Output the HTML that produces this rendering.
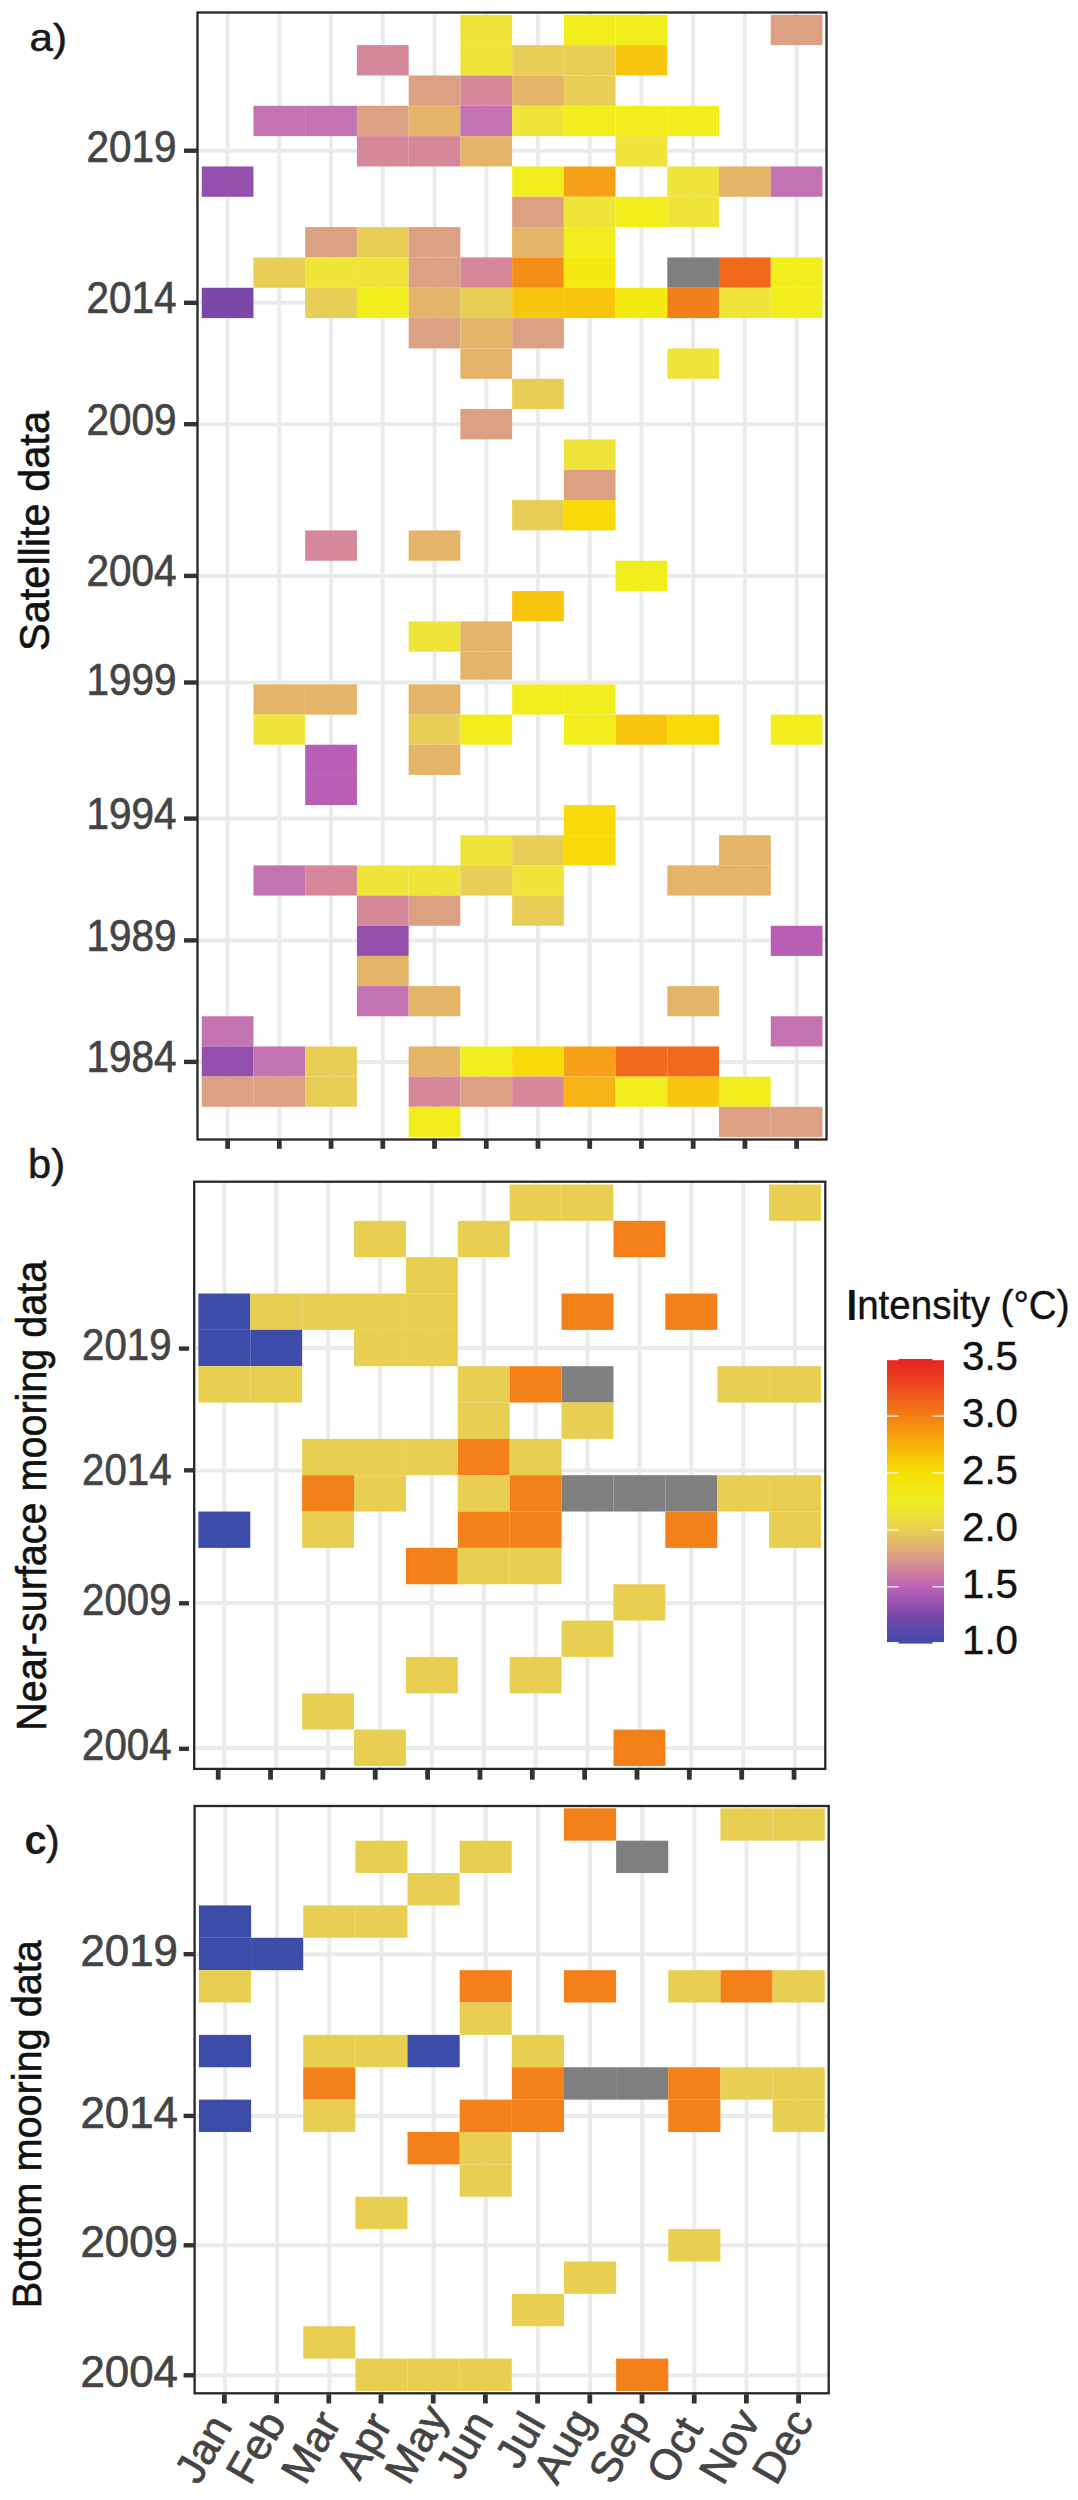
<!DOCTYPE html>
<html><head><meta charset="utf-8"><title>Heatmap</title>
<style>
html,body{margin:0;padding:0;background:#fff;}
body{width:1078px;height:2500px;overflow:hidden;}
svg{display:block;font-family:"Liberation Sans", sans-serif;}
</style></head>
<body>
<svg width="1078" height="2500" viewBox="0 0 1078 2500">
<rect x="0" y="0" width="1078" height="2500" fill="#ffffff"/>
<defs><linearGradient id="cb" x1="0" y1="0" x2="0" y2="1"><stop offset="0.0" stop-color="#E82222"/><stop offset="0.1" stop-color="#EE4C1E"/><stop offset="0.2" stop-color="#F47E14"/><stop offset="0.3" stop-color="#F8B00C"/><stop offset="0.4" stop-color="#F6E004"/><stop offset="0.5" stop-color="#F0EE20"/><stop offset="0.6" stop-color="#E8D050"/><stop offset="0.7" stop-color="#D99A86"/><stop offset="0.8" stop-color="#BE62B8"/><stop offset="0.9" stop-color="#7A48AA"/><stop offset="1.0" stop-color="#3D4CA9"/></linearGradient></defs>
<line x1="227.60" y1="12.50" x2="227.60" y2="1139.50" stroke="#EBEBEB" stroke-width="4.0"/>
<line x1="279.33" y1="12.50" x2="279.33" y2="1139.50" stroke="#EBEBEB" stroke-width="4.0"/>
<line x1="331.06" y1="12.50" x2="331.06" y2="1139.50" stroke="#EBEBEB" stroke-width="4.0"/>
<line x1="382.79" y1="12.50" x2="382.79" y2="1139.50" stroke="#EBEBEB" stroke-width="4.0"/>
<line x1="434.52" y1="12.50" x2="434.52" y2="1139.50" stroke="#EBEBEB" stroke-width="4.0"/>
<line x1="486.25" y1="12.50" x2="486.25" y2="1139.50" stroke="#EBEBEB" stroke-width="4.0"/>
<line x1="537.98" y1="12.50" x2="537.98" y2="1139.50" stroke="#EBEBEB" stroke-width="4.0"/>
<line x1="589.71" y1="12.50" x2="589.71" y2="1139.50" stroke="#EBEBEB" stroke-width="4.0"/>
<line x1="641.44" y1="12.50" x2="641.44" y2="1139.50" stroke="#EBEBEB" stroke-width="4.0"/>
<line x1="693.17" y1="12.50" x2="693.17" y2="1139.50" stroke="#EBEBEB" stroke-width="4.0"/>
<line x1="744.90" y1="12.50" x2="744.90" y2="1139.50" stroke="#EBEBEB" stroke-width="4.0"/>
<line x1="796.63" y1="12.50" x2="796.63" y2="1139.50" stroke="#EBEBEB" stroke-width="4.0"/>
<line x1="197.50" y1="150.70" x2="826.50" y2="150.70" stroke="#EBEBEB" stroke-width="4.0"/>
<line x1="197.50" y1="302.80" x2="826.50" y2="302.80" stroke="#EBEBEB" stroke-width="4.0"/>
<line x1="197.50" y1="424.20" x2="826.50" y2="424.20" stroke="#EBEBEB" stroke-width="4.0"/>
<line x1="197.50" y1="575.90" x2="826.50" y2="575.90" stroke="#EBEBEB" stroke-width="4.0"/>
<line x1="197.50" y1="682.50" x2="826.50" y2="682.50" stroke="#EBEBEB" stroke-width="4.0"/>
<line x1="197.50" y1="818.60" x2="826.50" y2="818.60" stroke="#EBEBEB" stroke-width="4.0"/>
<line x1="197.50" y1="940.40" x2="826.50" y2="940.40" stroke="#EBEBEB" stroke-width="4.0"/>
<line x1="197.50" y1="1061.90" x2="826.50" y2="1061.90" stroke="#EBEBEB" stroke-width="4.0"/>
<rect x="460.38" y="14.80" width="51.73" height="30.33" fill="#EFE43A"/>
<rect x="563.84" y="14.80" width="51.73" height="30.33" fill="#F2EE1E"/>
<rect x="615.57" y="14.80" width="51.73" height="30.33" fill="#F2EE1E"/>
<rect x="770.76" y="14.80" width="51.73" height="30.33" fill="#DCA082"/>
<rect x="356.92" y="45.13" width="51.73" height="30.33" fill="#D4889A"/>
<rect x="460.38" y="45.13" width="51.73" height="30.33" fill="#EFE43A"/>
<rect x="512.12" y="45.13" width="51.73" height="30.33" fill="#E8CD56"/>
<rect x="563.84" y="45.13" width="51.73" height="30.33" fill="#E8CD56"/>
<rect x="615.57" y="45.13" width="51.73" height="30.33" fill="#F8C60E"/>
<rect x="408.65" y="75.46" width="51.73" height="30.33" fill="#DCA082"/>
<rect x="460.38" y="75.46" width="51.73" height="30.33" fill="#D4889A"/>
<rect x="512.12" y="75.46" width="51.73" height="30.33" fill="#E4B468"/>
<rect x="563.84" y="75.46" width="51.73" height="30.33" fill="#E8CD56"/>
<rect x="253.46" y="105.79" width="51.73" height="30.33" fill="#C372B2"/>
<rect x="305.19" y="105.79" width="51.73" height="30.33" fill="#C372B2"/>
<rect x="356.92" y="105.79" width="51.73" height="30.33" fill="#DCA082"/>
<rect x="408.65" y="105.79" width="51.73" height="30.33" fill="#E4B468"/>
<rect x="460.38" y="105.79" width="51.73" height="30.33" fill="#C372B2"/>
<rect x="512.12" y="105.79" width="51.73" height="30.33" fill="#EFE43A"/>
<rect x="563.84" y="105.79" width="51.73" height="30.33" fill="#F2EE1E"/>
<rect x="615.57" y="105.79" width="51.73" height="30.33" fill="#F2EE1E"/>
<rect x="667.30" y="105.79" width="51.73" height="30.33" fill="#F2EE1E"/>
<rect x="356.92" y="136.12" width="51.73" height="30.33" fill="#D4889A"/>
<rect x="408.65" y="136.12" width="51.73" height="30.33" fill="#D4889A"/>
<rect x="460.38" y="136.12" width="51.73" height="30.33" fill="#E4B468"/>
<rect x="615.57" y="136.12" width="51.73" height="30.33" fill="#EFE43A"/>
<rect x="201.73" y="166.45" width="51.73" height="30.33" fill="#9450AC"/>
<rect x="512.12" y="166.45" width="51.73" height="30.33" fill="#F2EE1E"/>
<rect x="563.84" y="166.45" width="51.73" height="30.33" fill="#F5A016"/>
<rect x="667.30" y="166.45" width="51.73" height="30.33" fill="#EFE43A"/>
<rect x="719.03" y="166.45" width="51.73" height="30.33" fill="#E4B468"/>
<rect x="770.76" y="166.45" width="51.73" height="30.33" fill="#C372B2"/>
<rect x="512.12" y="196.78" width="51.73" height="30.33" fill="#DCA082"/>
<rect x="563.84" y="196.78" width="51.73" height="30.33" fill="#EFE43A"/>
<rect x="615.57" y="196.78" width="51.73" height="30.33" fill="#F2EE1E"/>
<rect x="667.30" y="196.78" width="51.73" height="30.33" fill="#EFE43A"/>
<rect x="305.19" y="227.11" width="51.73" height="30.33" fill="#DCA082"/>
<rect x="356.92" y="227.11" width="51.73" height="30.33" fill="#E8CD56"/>
<rect x="408.65" y="227.11" width="51.73" height="30.33" fill="#DCA082"/>
<rect x="512.12" y="227.11" width="51.73" height="30.33" fill="#E4B468"/>
<rect x="563.84" y="227.11" width="51.73" height="30.33" fill="#F2EE1E"/>
<rect x="253.46" y="257.44" width="51.73" height="30.33" fill="#E8CD56"/>
<rect x="305.19" y="257.44" width="51.73" height="30.33" fill="#EFE43A"/>
<rect x="356.92" y="257.44" width="51.73" height="30.33" fill="#EFE43A"/>
<rect x="408.65" y="257.44" width="51.73" height="30.33" fill="#DCA082"/>
<rect x="460.38" y="257.44" width="51.73" height="30.33" fill="#D4889A"/>
<rect x="512.12" y="257.44" width="51.73" height="30.33" fill="#F58E18"/>
<rect x="563.84" y="257.44" width="51.73" height="30.33" fill="#F5EA10"/>
<rect x="667.30" y="257.44" width="51.73" height="30.33" fill="#7F7F7F"/>
<rect x="719.03" y="257.44" width="51.73" height="30.33" fill="#F06A1A"/>
<rect x="770.76" y="257.44" width="51.73" height="30.33" fill="#F2EE1E"/>
<rect x="201.73" y="287.77" width="51.73" height="30.33" fill="#7C48A8"/>
<rect x="305.19" y="287.77" width="51.73" height="30.33" fill="#E8CD56"/>
<rect x="356.92" y="287.77" width="51.73" height="30.33" fill="#F2EE1E"/>
<rect x="408.65" y="287.77" width="51.73" height="30.33" fill="#E4B468"/>
<rect x="460.38" y="287.77" width="51.73" height="30.33" fill="#E8CD56"/>
<rect x="512.12" y="287.77" width="51.73" height="30.33" fill="#F8C60E"/>
<rect x="563.84" y="287.77" width="51.73" height="30.33" fill="#F8C60E"/>
<rect x="615.57" y="287.77" width="51.73" height="30.33" fill="#F5EA10"/>
<rect x="667.30" y="287.77" width="51.73" height="30.33" fill="#F28018"/>
<rect x="719.03" y="287.77" width="51.73" height="30.33" fill="#EFE43A"/>
<rect x="770.76" y="287.77" width="51.73" height="30.33" fill="#F2EE1E"/>
<rect x="408.65" y="318.10" width="51.73" height="30.33" fill="#DCA082"/>
<rect x="460.38" y="318.10" width="51.73" height="30.33" fill="#E4B468"/>
<rect x="512.12" y="318.10" width="51.73" height="30.33" fill="#DCA082"/>
<rect x="460.38" y="348.43" width="51.73" height="30.33" fill="#E4B468"/>
<rect x="667.30" y="348.43" width="51.73" height="30.33" fill="#EFE43A"/>
<rect x="512.12" y="378.76" width="51.73" height="30.33" fill="#E8CD56"/>
<rect x="460.38" y="409.09" width="51.73" height="30.33" fill="#DCA082"/>
<rect x="563.84" y="439.42" width="51.73" height="30.33" fill="#EFE43A"/>
<rect x="563.84" y="469.75" width="51.73" height="30.33" fill="#DCA082"/>
<rect x="512.12" y="500.08" width="51.73" height="30.33" fill="#E8CD56"/>
<rect x="563.84" y="500.08" width="51.73" height="30.33" fill="#F8DA0A"/>
<rect x="305.19" y="530.41" width="51.73" height="30.33" fill="#D4889A"/>
<rect x="408.65" y="530.41" width="51.73" height="30.33" fill="#E4B468"/>
<rect x="615.57" y="560.74" width="51.73" height="30.33" fill="#F2EE1E"/>
<rect x="512.12" y="591.07" width="51.73" height="30.33" fill="#F8C60E"/>
<rect x="408.65" y="621.40" width="51.73" height="30.33" fill="#EFE43A"/>
<rect x="460.38" y="621.40" width="51.73" height="30.33" fill="#E4B468"/>
<rect x="460.38" y="651.73" width="51.73" height="27.97" fill="#E4B468"/>
<rect x="253.46" y="684.40" width="51.73" height="30.17" fill="#E4B468"/>
<rect x="305.19" y="684.40" width="51.73" height="30.17" fill="#E4B468"/>
<rect x="408.65" y="684.40" width="51.73" height="30.17" fill="#E4B468"/>
<rect x="512.12" y="684.40" width="51.73" height="30.17" fill="#F2EE1E"/>
<rect x="563.84" y="684.40" width="51.73" height="30.17" fill="#F2EE1E"/>
<rect x="253.46" y="714.57" width="51.73" height="30.17" fill="#EFE43A"/>
<rect x="408.65" y="714.57" width="51.73" height="30.17" fill="#E8CD56"/>
<rect x="460.38" y="714.57" width="51.73" height="30.17" fill="#F2EE1E"/>
<rect x="563.84" y="714.57" width="51.73" height="30.17" fill="#F2EE1E"/>
<rect x="615.57" y="714.57" width="51.73" height="30.17" fill="#F8C60E"/>
<rect x="667.30" y="714.57" width="51.73" height="30.17" fill="#F8DA0A"/>
<rect x="770.76" y="714.57" width="51.73" height="30.17" fill="#F2EE1E"/>
<rect x="305.19" y="744.74" width="51.73" height="30.17" fill="#B85EB5"/>
<rect x="408.65" y="744.74" width="51.73" height="30.17" fill="#E4B468"/>
<rect x="305.19" y="774.91" width="51.73" height="30.17" fill="#B85EB5"/>
<rect x="563.84" y="805.08" width="51.73" height="30.17" fill="#F8DA0A"/>
<rect x="460.38" y="835.25" width="51.73" height="30.17" fill="#EFE43A"/>
<rect x="512.12" y="835.25" width="51.73" height="30.17" fill="#E8CD56"/>
<rect x="563.84" y="835.25" width="51.73" height="30.17" fill="#F8DA0A"/>
<rect x="719.03" y="835.25" width="51.73" height="30.17" fill="#E4B468"/>
<rect x="253.46" y="865.42" width="51.73" height="30.17" fill="#C372B2"/>
<rect x="305.19" y="865.42" width="51.73" height="30.17" fill="#D4889A"/>
<rect x="356.92" y="865.42" width="51.73" height="30.17" fill="#EFE43A"/>
<rect x="408.65" y="865.42" width="51.73" height="30.17" fill="#EFE43A"/>
<rect x="460.38" y="865.42" width="51.73" height="30.17" fill="#E8CD56"/>
<rect x="512.12" y="865.42" width="51.73" height="30.17" fill="#EFE43A"/>
<rect x="667.30" y="865.42" width="51.73" height="30.17" fill="#E4B468"/>
<rect x="719.03" y="865.42" width="51.73" height="30.17" fill="#E4B468"/>
<rect x="356.92" y="895.59" width="51.73" height="30.17" fill="#D4889A"/>
<rect x="408.65" y="895.59" width="51.73" height="30.17" fill="#DCA082"/>
<rect x="512.12" y="895.59" width="51.73" height="30.17" fill="#E8CD56"/>
<rect x="356.92" y="925.76" width="51.73" height="30.17" fill="#9450AC"/>
<rect x="770.76" y="925.76" width="51.73" height="30.17" fill="#B85EB5"/>
<rect x="356.92" y="955.93" width="51.73" height="30.17" fill="#E4B468"/>
<rect x="356.92" y="986.10" width="51.73" height="30.17" fill="#C372B2"/>
<rect x="408.65" y="986.10" width="51.73" height="30.17" fill="#E4B468"/>
<rect x="667.30" y="986.10" width="51.73" height="30.17" fill="#E4B468"/>
<rect x="201.73" y="1016.27" width="51.73" height="30.17" fill="#C372B2"/>
<rect x="770.76" y="1016.27" width="51.73" height="30.17" fill="#C372B2"/>
<rect x="201.73" y="1046.44" width="51.73" height="30.17" fill="#9450AC"/>
<rect x="253.46" y="1046.44" width="51.73" height="30.17" fill="#C372B2"/>
<rect x="305.19" y="1046.44" width="51.73" height="30.17" fill="#E8CD56"/>
<rect x="408.65" y="1046.44" width="51.73" height="30.17" fill="#E4B468"/>
<rect x="460.38" y="1046.44" width="51.73" height="30.17" fill="#F2EE1E"/>
<rect x="512.12" y="1046.44" width="51.73" height="30.17" fill="#F8DA0A"/>
<rect x="563.84" y="1046.44" width="51.73" height="30.17" fill="#F5A016"/>
<rect x="615.57" y="1046.44" width="51.73" height="30.17" fill="#F06A1A"/>
<rect x="667.30" y="1046.44" width="51.73" height="30.17" fill="#F06A1A"/>
<rect x="201.73" y="1076.61" width="51.73" height="30.17" fill="#DCA082"/>
<rect x="253.46" y="1076.61" width="51.73" height="30.17" fill="#DCA082"/>
<rect x="305.19" y="1076.61" width="51.73" height="30.17" fill="#E8CD56"/>
<rect x="408.65" y="1076.61" width="51.73" height="30.17" fill="#D4889A"/>
<rect x="460.38" y="1076.61" width="51.73" height="30.17" fill="#DCA082"/>
<rect x="512.12" y="1076.61" width="51.73" height="30.17" fill="#D4889A"/>
<rect x="563.84" y="1076.61" width="51.73" height="30.17" fill="#F7B515"/>
<rect x="615.57" y="1076.61" width="51.73" height="30.17" fill="#F2EE1E"/>
<rect x="667.30" y="1076.61" width="51.73" height="30.17" fill="#F8C60E"/>
<rect x="719.03" y="1076.61" width="51.73" height="30.17" fill="#F2EE1E"/>
<rect x="408.65" y="1106.78" width="51.73" height="30.17" fill="#F2EE1E"/>
<rect x="719.03" y="1106.78" width="51.73" height="30.17" fill="#DCA082"/>
<rect x="770.76" y="1106.78" width="51.73" height="30.17" fill="#DCA082"/>
<rect x="197.50" y="12.50" width="629.00" height="1127.00" fill="none" stroke="#262626" stroke-width="2.3"/>
<line x1="227.60" y1="1140.00" x2="227.60" y2="1148.80" stroke="#333333" stroke-width="4.8"/>
<line x1="279.33" y1="1140.00" x2="279.33" y2="1148.80" stroke="#333333" stroke-width="4.8"/>
<line x1="331.06" y1="1140.00" x2="331.06" y2="1148.80" stroke="#333333" stroke-width="4.8"/>
<line x1="382.79" y1="1140.00" x2="382.79" y2="1148.80" stroke="#333333" stroke-width="4.8"/>
<line x1="434.52" y1="1140.00" x2="434.52" y2="1148.80" stroke="#333333" stroke-width="4.8"/>
<line x1="486.25" y1="1140.00" x2="486.25" y2="1148.80" stroke="#333333" stroke-width="4.8"/>
<line x1="537.98" y1="1140.00" x2="537.98" y2="1148.80" stroke="#333333" stroke-width="4.8"/>
<line x1="589.71" y1="1140.00" x2="589.71" y2="1148.80" stroke="#333333" stroke-width="4.8"/>
<line x1="641.44" y1="1140.00" x2="641.44" y2="1148.80" stroke="#333333" stroke-width="4.8"/>
<line x1="693.17" y1="1140.00" x2="693.17" y2="1148.80" stroke="#333333" stroke-width="4.8"/>
<line x1="744.90" y1="1140.00" x2="744.90" y2="1148.80" stroke="#333333" stroke-width="4.8"/>
<line x1="796.63" y1="1140.00" x2="796.63" y2="1148.80" stroke="#333333" stroke-width="4.8"/>
<line x1="184.00" y1="150.70" x2="197.00" y2="150.70" stroke="#333333" stroke-width="4.4"/>
<text x="176.50" y="162.00" font-size="44" fill="#444444" text-anchor="end" textLength="90.0" lengthAdjust="spacingAndGlyphs" stroke="#444444" stroke-width="0.7">2019</text>
<line x1="184.00" y1="302.80" x2="197.00" y2="302.80" stroke="#333333" stroke-width="4.4"/>
<text x="176.50" y="313.20" font-size="44" fill="#444444" text-anchor="end" textLength="90.0" lengthAdjust="spacingAndGlyphs" stroke="#444444" stroke-width="0.7">2014</text>
<line x1="184.00" y1="424.20" x2="197.00" y2="424.20" stroke="#333333" stroke-width="4.4"/>
<text x="176.50" y="434.70" font-size="44" fill="#444444" text-anchor="end" textLength="90.0" lengthAdjust="spacingAndGlyphs" stroke="#444444" stroke-width="0.7">2009</text>
<line x1="184.00" y1="575.90" x2="197.00" y2="575.90" stroke="#333333" stroke-width="4.4"/>
<text x="176.50" y="586.30" font-size="44" fill="#444444" text-anchor="end" textLength="90.0" lengthAdjust="spacingAndGlyphs" stroke="#444444" stroke-width="0.7">2004</text>
<line x1="184.00" y1="682.50" x2="197.00" y2="682.50" stroke="#333333" stroke-width="4.4"/>
<text x="176.50" y="694.90" font-size="44" fill="#444444" text-anchor="end" textLength="90.0" lengthAdjust="spacingAndGlyphs" stroke="#444444" stroke-width="0.7">1999</text>
<line x1="184.00" y1="818.60" x2="197.00" y2="818.60" stroke="#333333" stroke-width="4.4"/>
<text x="176.50" y="829.10" font-size="44" fill="#444444" text-anchor="end" textLength="90.0" lengthAdjust="spacingAndGlyphs" stroke="#444444" stroke-width="0.7">1994</text>
<line x1="184.00" y1="940.40" x2="197.00" y2="940.40" stroke="#333333" stroke-width="4.4"/>
<text x="176.50" y="951.00" font-size="44" fill="#444444" text-anchor="end" textLength="90.0" lengthAdjust="spacingAndGlyphs" stroke="#444444" stroke-width="0.7">1989</text>
<line x1="184.00" y1="1061.90" x2="197.00" y2="1061.90" stroke="#333333" stroke-width="4.4"/>
<text x="176.50" y="1072.40" font-size="44" fill="#444444" text-anchor="end" textLength="90.0" lengthAdjust="spacingAndGlyphs" stroke="#444444" stroke-width="0.7">1984</text>
<line x1="224.30" y1="1181.70" x2="224.30" y2="1768.90" stroke="#EBEBEB" stroke-width="4.0"/>
<line x1="276.19" y1="1181.70" x2="276.19" y2="1768.90" stroke="#EBEBEB" stroke-width="4.0"/>
<line x1="328.08" y1="1181.70" x2="328.08" y2="1768.90" stroke="#EBEBEB" stroke-width="4.0"/>
<line x1="379.97" y1="1181.70" x2="379.97" y2="1768.90" stroke="#EBEBEB" stroke-width="4.0"/>
<line x1="431.86" y1="1181.70" x2="431.86" y2="1768.90" stroke="#EBEBEB" stroke-width="4.0"/>
<line x1="483.75" y1="1181.70" x2="483.75" y2="1768.90" stroke="#EBEBEB" stroke-width="4.0"/>
<line x1="535.64" y1="1181.70" x2="535.64" y2="1768.90" stroke="#EBEBEB" stroke-width="4.0"/>
<line x1="587.53" y1="1181.70" x2="587.53" y2="1768.90" stroke="#EBEBEB" stroke-width="4.0"/>
<line x1="639.42" y1="1181.70" x2="639.42" y2="1768.90" stroke="#EBEBEB" stroke-width="4.0"/>
<line x1="691.31" y1="1181.70" x2="691.31" y2="1768.90" stroke="#EBEBEB" stroke-width="4.0"/>
<line x1="743.20" y1="1181.70" x2="743.20" y2="1768.90" stroke="#EBEBEB" stroke-width="4.0"/>
<line x1="795.09" y1="1181.70" x2="795.09" y2="1768.90" stroke="#EBEBEB" stroke-width="4.0"/>
<line x1="194.20" y1="1348.00" x2="825.30" y2="1348.00" stroke="#EBEBEB" stroke-width="4.0"/>
<line x1="194.20" y1="1470.40" x2="825.30" y2="1470.40" stroke="#EBEBEB" stroke-width="4.0"/>
<line x1="194.20" y1="1603.00" x2="825.30" y2="1603.00" stroke="#EBEBEB" stroke-width="4.0"/>
<line x1="194.20" y1="1748.00" x2="825.30" y2="1748.00" stroke="#EBEBEB" stroke-width="4.0"/>
<rect x="509.70" y="1184.50" width="51.89" height="36.34" fill="#E8CF52"/>
<rect x="561.58" y="1184.50" width="51.89" height="36.34" fill="#E8CF52"/>
<rect x="769.14" y="1184.50" width="51.89" height="36.34" fill="#E8CF52"/>
<rect x="354.03" y="1220.84" width="51.89" height="36.34" fill="#E8CF52"/>
<rect x="457.81" y="1220.84" width="51.89" height="36.34" fill="#E8CF52"/>
<rect x="613.48" y="1220.84" width="51.89" height="36.34" fill="#F38019"/>
<rect x="405.92" y="1257.18" width="51.89" height="36.34" fill="#E8CF52"/>
<rect x="198.36" y="1293.52" width="51.89" height="36.34" fill="#3D4CA9"/>
<rect x="250.25" y="1293.52" width="51.89" height="36.34" fill="#E8CF52"/>
<rect x="302.14" y="1293.52" width="51.89" height="36.34" fill="#E8CF52"/>
<rect x="354.03" y="1293.52" width="51.89" height="36.34" fill="#E8CF52"/>
<rect x="405.92" y="1293.52" width="51.89" height="36.34" fill="#E8CF52"/>
<rect x="561.58" y="1293.52" width="51.89" height="36.34" fill="#F38019"/>
<rect x="665.36" y="1293.52" width="51.89" height="36.34" fill="#F38019"/>
<rect x="198.36" y="1329.86" width="51.89" height="36.34" fill="#3D4CA9"/>
<rect x="250.25" y="1329.86" width="51.89" height="36.34" fill="#3D4CA9"/>
<rect x="354.03" y="1329.86" width="51.89" height="36.34" fill="#E8CF52"/>
<rect x="405.92" y="1329.86" width="51.89" height="36.34" fill="#E8CF52"/>
<rect x="198.36" y="1366.20" width="51.89" height="36.34" fill="#E8CF52"/>
<rect x="250.25" y="1366.20" width="51.89" height="36.34" fill="#E8CF52"/>
<rect x="457.81" y="1366.20" width="51.89" height="36.34" fill="#E8CF52"/>
<rect x="509.70" y="1366.20" width="51.89" height="36.34" fill="#F38019"/>
<rect x="561.58" y="1366.20" width="51.89" height="36.34" fill="#7F7F7F"/>
<rect x="717.25" y="1366.20" width="51.89" height="36.34" fill="#E8CF52"/>
<rect x="769.14" y="1366.20" width="51.89" height="36.34" fill="#E8CF52"/>
<rect x="457.81" y="1402.54" width="51.89" height="36.34" fill="#E8CF52"/>
<rect x="561.58" y="1402.54" width="51.89" height="36.34" fill="#E8CF52"/>
<rect x="302.14" y="1438.88" width="51.89" height="36.34" fill="#E8CF52"/>
<rect x="354.03" y="1438.88" width="51.89" height="36.34" fill="#E8CF52"/>
<rect x="405.92" y="1438.88" width="51.89" height="36.34" fill="#E8CF52"/>
<rect x="457.81" y="1438.88" width="51.89" height="36.34" fill="#F38019"/>
<rect x="509.70" y="1438.88" width="51.89" height="36.34" fill="#E8CF52"/>
<rect x="302.14" y="1475.22" width="51.89" height="36.34" fill="#F38019"/>
<rect x="354.03" y="1475.22" width="51.89" height="36.34" fill="#E8CF52"/>
<rect x="457.81" y="1475.22" width="51.89" height="36.34" fill="#E8CF52"/>
<rect x="509.70" y="1475.22" width="51.89" height="36.34" fill="#F38019"/>
<rect x="561.58" y="1475.22" width="51.89" height="36.34" fill="#7F7F7F"/>
<rect x="613.48" y="1475.22" width="51.89" height="36.34" fill="#7F7F7F"/>
<rect x="665.36" y="1475.22" width="51.89" height="36.34" fill="#7F7F7F"/>
<rect x="717.25" y="1475.22" width="51.89" height="36.34" fill="#E8CF52"/>
<rect x="769.14" y="1475.22" width="51.89" height="36.34" fill="#E8CF52"/>
<rect x="198.36" y="1511.56" width="51.89" height="36.34" fill="#3D4CA9"/>
<rect x="302.14" y="1511.56" width="51.89" height="36.34" fill="#E8CF52"/>
<rect x="457.81" y="1511.56" width="51.89" height="36.34" fill="#F38019"/>
<rect x="509.70" y="1511.56" width="51.89" height="36.34" fill="#F38019"/>
<rect x="665.36" y="1511.56" width="51.89" height="36.34" fill="#F38019"/>
<rect x="769.14" y="1511.56" width="51.89" height="36.34" fill="#E8CF52"/>
<rect x="405.92" y="1547.90" width="51.89" height="36.34" fill="#F38019"/>
<rect x="457.81" y="1547.90" width="51.89" height="36.34" fill="#E8CF52"/>
<rect x="509.70" y="1547.90" width="51.89" height="36.34" fill="#E8CF52"/>
<rect x="613.48" y="1584.24" width="51.89" height="36.34" fill="#E8CF52"/>
<rect x="561.58" y="1620.58" width="51.89" height="36.34" fill="#E8CF52"/>
<rect x="405.92" y="1656.92" width="51.89" height="36.34" fill="#E8CF52"/>
<rect x="509.70" y="1656.92" width="51.89" height="36.34" fill="#E8CF52"/>
<rect x="302.14" y="1693.26" width="51.89" height="36.34" fill="#E8CF52"/>
<rect x="354.03" y="1729.60" width="51.89" height="36.34" fill="#E8CF52"/>
<rect x="613.48" y="1729.60" width="51.89" height="36.34" fill="#F38019"/>
<rect x="194.20" y="1181.70" width="631.10" height="587.20" fill="none" stroke="#262626" stroke-width="2.3"/>
<line x1="218.20" y1="1769.50" x2="218.20" y2="1779.70" stroke="#333333" stroke-width="4.8"/>
<line x1="270.55" y1="1769.50" x2="270.55" y2="1779.70" stroke="#333333" stroke-width="4.8"/>
<line x1="322.90" y1="1769.50" x2="322.90" y2="1779.70" stroke="#333333" stroke-width="4.8"/>
<line x1="375.25" y1="1769.50" x2="375.25" y2="1779.70" stroke="#333333" stroke-width="4.8"/>
<line x1="427.60" y1="1769.50" x2="427.60" y2="1779.70" stroke="#333333" stroke-width="4.8"/>
<line x1="479.95" y1="1769.50" x2="479.95" y2="1779.70" stroke="#333333" stroke-width="4.8"/>
<line x1="532.30" y1="1769.50" x2="532.30" y2="1779.70" stroke="#333333" stroke-width="4.8"/>
<line x1="584.65" y1="1769.50" x2="584.65" y2="1779.70" stroke="#333333" stroke-width="4.8"/>
<line x1="637.00" y1="1769.50" x2="637.00" y2="1779.70" stroke="#333333" stroke-width="4.8"/>
<line x1="689.35" y1="1769.50" x2="689.35" y2="1779.70" stroke="#333333" stroke-width="4.8"/>
<line x1="741.70" y1="1769.50" x2="741.70" y2="1779.70" stroke="#333333" stroke-width="4.8"/>
<line x1="794.05" y1="1769.50" x2="794.05" y2="1779.70" stroke="#333333" stroke-width="4.8"/>
<line x1="179.00" y1="1348.60" x2="189.00" y2="1348.60" stroke="#333333" stroke-width="4.4"/>
<text x="171.50" y="1360.30" font-size="44" fill="#444444" text-anchor="end" textLength="89.4" lengthAdjust="spacingAndGlyphs" stroke="#444444" stroke-width="0.7">2019</text>
<line x1="184.00" y1="1470.30" x2="194.00" y2="1470.30" stroke="#333333" stroke-width="4.4"/>
<text x="171.50" y="1485.10" font-size="44" fill="#444444" text-anchor="end" textLength="89.4" lengthAdjust="spacingAndGlyphs" stroke="#444444" stroke-width="0.7">2014</text>
<line x1="179.00" y1="1603.30" x2="189.00" y2="1603.30" stroke="#333333" stroke-width="4.4"/>
<text x="171.50" y="1614.90" font-size="44" fill="#444444" text-anchor="end" textLength="89.4" lengthAdjust="spacingAndGlyphs" stroke="#444444" stroke-width="0.7">2009</text>
<line x1="179.00" y1="1748.80" x2="189.00" y2="1748.80" stroke="#333333" stroke-width="4.4"/>
<text x="171.50" y="1760.40" font-size="44" fill="#444444" text-anchor="end" textLength="89.4" lengthAdjust="spacingAndGlyphs" stroke="#444444" stroke-width="0.7">2004</text>
<line x1="225.00" y1="1806.00" x2="225.00" y2="2393.30" stroke="#EBEBEB" stroke-width="4.0"/>
<line x1="277.15" y1="1806.00" x2="277.15" y2="2393.30" stroke="#EBEBEB" stroke-width="4.0"/>
<line x1="329.30" y1="1806.00" x2="329.30" y2="2393.30" stroke="#EBEBEB" stroke-width="4.0"/>
<line x1="381.45" y1="1806.00" x2="381.45" y2="2393.30" stroke="#EBEBEB" stroke-width="4.0"/>
<line x1="433.60" y1="1806.00" x2="433.60" y2="2393.30" stroke="#EBEBEB" stroke-width="4.0"/>
<line x1="485.75" y1="1806.00" x2="485.75" y2="2393.30" stroke="#EBEBEB" stroke-width="4.0"/>
<line x1="537.90" y1="1806.00" x2="537.90" y2="2393.30" stroke="#EBEBEB" stroke-width="4.0"/>
<line x1="590.05" y1="1806.00" x2="590.05" y2="2393.30" stroke="#EBEBEB" stroke-width="4.0"/>
<line x1="642.20" y1="1806.00" x2="642.20" y2="2393.30" stroke="#EBEBEB" stroke-width="4.0"/>
<line x1="694.35" y1="1806.00" x2="694.35" y2="2393.30" stroke="#EBEBEB" stroke-width="4.0"/>
<line x1="746.50" y1="1806.00" x2="746.50" y2="2393.30" stroke="#EBEBEB" stroke-width="4.0"/>
<line x1="798.65" y1="1806.00" x2="798.65" y2="2393.30" stroke="#EBEBEB" stroke-width="4.0"/>
<line x1="194.60" y1="1954.20" x2="828.70" y2="1954.20" stroke="#EBEBEB" stroke-width="4.0"/>
<line x1="194.60" y1="2115.90" x2="828.70" y2="2115.90" stroke="#EBEBEB" stroke-width="4.0"/>
<line x1="194.60" y1="2245.30" x2="828.70" y2="2245.30" stroke="#EBEBEB" stroke-width="4.0"/>
<line x1="194.60" y1="2375.30" x2="828.70" y2="2375.30" stroke="#EBEBEB" stroke-width="4.0"/>
<rect x="563.97" y="1808.30" width="52.15" height="32.37" fill="#F38019"/>
<rect x="720.42" y="1808.30" width="52.15" height="32.37" fill="#E8CF52"/>
<rect x="772.57" y="1808.30" width="52.15" height="32.37" fill="#E8CF52"/>
<rect x="355.38" y="1840.67" width="52.15" height="32.37" fill="#E8CF52"/>
<rect x="459.68" y="1840.67" width="52.15" height="32.37" fill="#E8CF52"/>
<rect x="616.12" y="1840.67" width="52.15" height="32.37" fill="#7F7F7F"/>
<rect x="407.53" y="1873.04" width="52.15" height="32.37" fill="#E8CF52"/>
<rect x="198.93" y="1905.41" width="52.15" height="32.37" fill="#3D4CA9"/>
<rect x="303.23" y="1905.41" width="52.15" height="32.37" fill="#E8CF52"/>
<rect x="355.38" y="1905.41" width="52.15" height="32.37" fill="#E8CF52"/>
<rect x="198.93" y="1937.78" width="52.15" height="32.37" fill="#3D4CA9"/>
<rect x="251.07" y="1937.78" width="52.15" height="32.37" fill="#3D4CA9"/>
<rect x="198.93" y="1970.15" width="52.15" height="32.37" fill="#E8CF52"/>
<rect x="459.68" y="1970.15" width="52.15" height="32.37" fill="#F38019"/>
<rect x="563.97" y="1970.15" width="52.15" height="32.37" fill="#F38019"/>
<rect x="668.27" y="1970.15" width="52.15" height="32.37" fill="#E8CF52"/>
<rect x="720.42" y="1970.15" width="52.15" height="32.37" fill="#F38019"/>
<rect x="772.57" y="1970.15" width="52.15" height="32.37" fill="#E8CF52"/>
<rect x="459.68" y="2002.52" width="52.15" height="32.37" fill="#E8CF52"/>
<rect x="198.93" y="2034.89" width="52.15" height="32.37" fill="#3D4CA9"/>
<rect x="303.23" y="2034.89" width="52.15" height="32.37" fill="#E8CF52"/>
<rect x="355.38" y="2034.89" width="52.15" height="32.37" fill="#E8CF52"/>
<rect x="407.53" y="2034.89" width="52.15" height="32.37" fill="#3D4CA9"/>
<rect x="511.82" y="2034.89" width="52.15" height="32.37" fill="#E8CF52"/>
<rect x="303.23" y="2067.26" width="52.15" height="32.37" fill="#F38019"/>
<rect x="511.82" y="2067.26" width="52.15" height="32.37" fill="#F38019"/>
<rect x="563.97" y="2067.26" width="52.15" height="32.37" fill="#7F7F7F"/>
<rect x="616.12" y="2067.26" width="52.15" height="32.37" fill="#7F7F7F"/>
<rect x="668.27" y="2067.26" width="52.15" height="32.37" fill="#F38019"/>
<rect x="720.42" y="2067.26" width="52.15" height="32.37" fill="#E8CF52"/>
<rect x="772.57" y="2067.26" width="52.15" height="32.37" fill="#E8CF52"/>
<rect x="198.93" y="2099.63" width="52.15" height="32.37" fill="#3D4CA9"/>
<rect x="303.23" y="2099.63" width="52.15" height="32.37" fill="#E8CF52"/>
<rect x="459.68" y="2099.63" width="52.15" height="32.37" fill="#F38019"/>
<rect x="511.82" y="2099.63" width="52.15" height="32.37" fill="#F38019"/>
<rect x="668.27" y="2099.63" width="52.15" height="32.37" fill="#F38019"/>
<rect x="772.57" y="2099.63" width="52.15" height="32.37" fill="#E8CF52"/>
<rect x="407.53" y="2132.00" width="52.15" height="32.37" fill="#F38019"/>
<rect x="459.68" y="2132.00" width="52.15" height="32.37" fill="#E8CF52"/>
<rect x="459.68" y="2164.37" width="52.15" height="32.37" fill="#E8CF52"/>
<rect x="355.38" y="2196.74" width="52.15" height="32.37" fill="#E8CF52"/>
<rect x="668.27" y="2229.11" width="52.15" height="32.37" fill="#E8CF52"/>
<rect x="563.97" y="2261.48" width="52.15" height="32.37" fill="#E8CF52"/>
<rect x="511.82" y="2293.85" width="52.15" height="32.37" fill="#E8CF52"/>
<rect x="303.23" y="2326.22" width="52.15" height="32.37" fill="#E8CF52"/>
<rect x="355.38" y="2358.59" width="52.15" height="32.37" fill="#E8CF52"/>
<rect x="407.53" y="2358.59" width="52.15" height="32.37" fill="#E8CF52"/>
<rect x="459.68" y="2358.59" width="52.15" height="32.37" fill="#E8CF52"/>
<rect x="616.12" y="2358.59" width="52.15" height="32.37" fill="#F38019"/>
<rect x="194.60" y="1806.00" width="634.10" height="587.30" fill="none" stroke="#262626" stroke-width="2.3"/>
<line x1="224.40" y1="2394.30" x2="224.40" y2="2403.50" stroke="#333333" stroke-width="4.8"/>
<line x1="276.60" y1="2394.30" x2="276.60" y2="2403.50" stroke="#333333" stroke-width="4.8"/>
<line x1="328.80" y1="2394.30" x2="328.80" y2="2403.50" stroke="#333333" stroke-width="4.8"/>
<line x1="381.00" y1="2394.30" x2="381.00" y2="2403.50" stroke="#333333" stroke-width="4.8"/>
<line x1="433.20" y1="2394.30" x2="433.20" y2="2403.50" stroke="#333333" stroke-width="4.8"/>
<line x1="485.40" y1="2394.30" x2="485.40" y2="2403.50" stroke="#333333" stroke-width="4.8"/>
<line x1="537.60" y1="2394.30" x2="537.60" y2="2403.50" stroke="#333333" stroke-width="4.8"/>
<line x1="589.80" y1="2394.30" x2="589.80" y2="2403.50" stroke="#333333" stroke-width="4.8"/>
<line x1="642.00" y1="2394.30" x2="642.00" y2="2403.50" stroke="#333333" stroke-width="4.8"/>
<line x1="694.20" y1="2394.30" x2="694.20" y2="2403.50" stroke="#333333" stroke-width="4.8"/>
<line x1="746.40" y1="2394.30" x2="746.40" y2="2403.50" stroke="#333333" stroke-width="4.8"/>
<line x1="798.60" y1="2394.30" x2="798.60" y2="2403.50" stroke="#333333" stroke-width="4.8"/>
<line x1="183.60" y1="1954.20" x2="195.00" y2="1954.20" stroke="#333333" stroke-width="4.4"/>
<text x="178.00" y="1966.00" font-size="44" fill="#444444" text-anchor="end" textLength="97.5" lengthAdjust="spacingAndGlyphs" stroke="#444444" stroke-width="0.7">2019</text>
<line x1="183.60" y1="2115.90" x2="195.00" y2="2115.90" stroke="#333333" stroke-width="4.4"/>
<text x="178.00" y="2127.80" font-size="44" fill="#444444" text-anchor="end" textLength="97.5" lengthAdjust="spacingAndGlyphs" stroke="#444444" stroke-width="0.7">2014</text>
<line x1="183.60" y1="2245.30" x2="195.00" y2="2245.30" stroke="#333333" stroke-width="4.4"/>
<text x="178.00" y="2257.40" font-size="44" fill="#444444" text-anchor="end" textLength="97.5" lengthAdjust="spacingAndGlyphs" stroke="#444444" stroke-width="0.7">2009</text>
<line x1="183.60" y1="2375.30" x2="195.00" y2="2375.30" stroke="#333333" stroke-width="4.4"/>
<text x="178.00" y="2387.10" font-size="44" fill="#444444" text-anchor="end" textLength="97.5" lengthAdjust="spacingAndGlyphs" stroke="#444444" stroke-width="0.7">2004</text>
<text x="29.50" y="51.40" font-size="39" fill="#1a1a1a" text-anchor="start" stroke="#1a1a1a" stroke-width="0.5" textLength="37.5" lengthAdjust="spacingAndGlyphs">a)</text>
<text x="28.00" y="1178.20" font-size="40" fill="#1a1a1a" text-anchor="start" stroke="#1a1a1a" stroke-width="0.5" textLength="37.0" lengthAdjust="spacingAndGlyphs">b)</text>
<text x="24.50" y="1854.20" font-size="40" fill="#1a1a1a" text-anchor="start" font-weight="bold">c</text>
<text x="46.00" y="1854.60" font-size="41" fill="#1a1a1a" text-anchor="start" stroke="#1a1a1a" stroke-width="0.5">)</text>
<text transform="translate(48.60,531.00) rotate(-90)" x="0" y="0" font-size="43" fill="#111" stroke="#111" stroke-width="0.6" text-anchor="middle" textLength="240" lengthAdjust="spacingAndGlyphs">Satellite data</text>
<text transform="translate(46.20,1495.80) rotate(-90)" x="0" y="0" font-size="42" fill="#111" stroke="#111" stroke-width="0.6" text-anchor="middle" textLength="470" lengthAdjust="spacingAndGlyphs">Near-surface mooring data</text>
<text transform="translate(41.30,2124.20) rotate(-90)" x="0" y="0" font-size="41" fill="#111" stroke="#111" stroke-width="0.6" text-anchor="middle" textLength="368" lengthAdjust="spacingAndGlyphs">Bottom mooring data</text>
<text transform="translate(206.25,2410.60) rotate(-60)" x="0" y="0" font-size="43" fill="#444444" stroke="#444444" stroke-width="0.7" text-anchor="end" dominant-baseline="hanging">Jan</text>
<text transform="translate(259.95,2406.80) rotate(-60)" x="0" y="0" font-size="43" fill="#444444" stroke="#444444" stroke-width="0.7" text-anchor="end" dominant-baseline="hanging">Feb</text>
<text transform="translate(315.10,2406.75) rotate(-60)" x="0" y="0" font-size="43" fill="#444444" stroke="#444444" stroke-width="0.7" text-anchor="end" dominant-baseline="hanging">Mar</text>
<text transform="translate(366.05,2408.25) rotate(-60)" x="0" y="0" font-size="43" fill="#444444" stroke="#444444" stroke-width="0.7" text-anchor="end" dominant-baseline="hanging">Apr</text>
<text transform="translate(422.25,2400.45) rotate(-60)" x="0" y="0" font-size="43" fill="#444444" stroke="#444444" stroke-width="0.7" text-anchor="end" dominant-baseline="hanging">May</text>
<text transform="translate(467.35,2406.35) rotate(-60)" x="0" y="0" font-size="43" fill="#444444" stroke="#444444" stroke-width="0.7" text-anchor="end" dominant-baseline="hanging">Jun</text>
<text transform="translate(519.50,2407.95) rotate(-60)" x="0" y="0" font-size="43" fill="#444444" stroke="#444444" stroke-width="0.7" text-anchor="end" dominant-baseline="hanging">Jul</text>
<text transform="translate(568.25,2404.55) rotate(-60)" x="0" y="0" font-size="43" fill="#444444" stroke="#444444" stroke-width="0.7" text-anchor="end" dominant-baseline="hanging">Aug</text>
<text transform="translate(623.90,2404.40) rotate(-60)" x="0" y="0" font-size="43" fill="#444444" stroke="#444444" stroke-width="0.7" text-anchor="end" dominant-baseline="hanging">Sep</text>
<text transform="translate(677.00,2412.70) rotate(-60)" x="0" y="0" font-size="43" fill="#444444" stroke="#444444" stroke-width="0.7" text-anchor="end" dominant-baseline="hanging">Oct</text>
<text transform="translate(734.30,2404.85) rotate(-60)" x="0" y="0" font-size="43" fill="#444444" stroke="#444444" stroke-width="0.7" text-anchor="end" dominant-baseline="hanging">Nov</text>
<text transform="translate(787.45,2404.85) rotate(-60)" x="0" y="0" font-size="43" fill="#444444" stroke="#444444" stroke-width="0.7" text-anchor="end" dominant-baseline="hanging">Dec</text>
<rect x="887.00" y="1359.00" width="57.00" height="284.60" fill="url(#cb)"/>
<line x1="887.00" y1="1416.10" x2="898.50" y2="1416.10" stroke="#ffffff" stroke-width="1.2"/>
<line x1="932.50" y1="1416.10" x2="944.00" y2="1416.10" stroke="#ffffff" stroke-width="1.2"/>
<line x1="887.00" y1="1472.90" x2="898.50" y2="1472.90" stroke="#ffffff" stroke-width="1.2"/>
<line x1="932.50" y1="1472.90" x2="944.00" y2="1472.90" stroke="#ffffff" stroke-width="1.2"/>
<line x1="887.00" y1="1530.00" x2="898.50" y2="1530.00" stroke="#ffffff" stroke-width="1.2"/>
<line x1="932.50" y1="1530.00" x2="944.00" y2="1530.00" stroke="#ffffff" stroke-width="1.2"/>
<line x1="887.00" y1="1586.80" x2="898.50" y2="1586.80" stroke="#ffffff" stroke-width="1.2"/>
<line x1="932.50" y1="1586.80" x2="944.00" y2="1586.80" stroke="#ffffff" stroke-width="1.2"/>
<rect x="886.50" y="1358.50" width="12.00" height="1.70" fill="#ffffff"/>
<rect x="932.50" y="1358.50" width="12.00" height="1.70" fill="#ffffff"/>
<rect x="886.50" y="1642.10" width="12.00" height="2.40" fill="#ffffff"/>
<rect x="932.50" y="1642.10" width="12.00" height="2.40" fill="#ffffff"/>
<text x="962.00" y="1370.40" font-size="41" fill="#111" text-anchor="start" textLength="56" lengthAdjust="spacingAndGlyphs" stroke="#111" stroke-width="0.4">3.5</text>
<text x="962.00" y="1426.80" font-size="41" fill="#111" text-anchor="start" textLength="56" lengthAdjust="spacingAndGlyphs" stroke="#111" stroke-width="0.4">3.0</text>
<text x="962.00" y="1483.60" font-size="41" fill="#111" text-anchor="start" textLength="56" lengthAdjust="spacingAndGlyphs" stroke="#111" stroke-width="0.4">2.5</text>
<text x="962.00" y="1540.70" font-size="41" fill="#111" text-anchor="start" textLength="56" lengthAdjust="spacingAndGlyphs" stroke="#111" stroke-width="0.4">2.0</text>
<text x="962.00" y="1597.50" font-size="41" fill="#111" text-anchor="start" textLength="56" lengthAdjust="spacingAndGlyphs" stroke="#111" stroke-width="0.4">1.5</text>
<text x="962.00" y="1653.70" font-size="41" fill="#111" text-anchor="start" textLength="56" lengthAdjust="spacingAndGlyphs" stroke="#111" stroke-width="0.4">1.0</text>
<text x="846.50" y="1318.50" font-size="41" fill="#111" text-anchor="start" textLength="223" lengthAdjust="spacingAndGlyphs" stroke="#111" stroke-width="0.4"><tspan stroke-width="1.8">I</tspan>ntensity (°C)</text>
</svg>
</body></html>
